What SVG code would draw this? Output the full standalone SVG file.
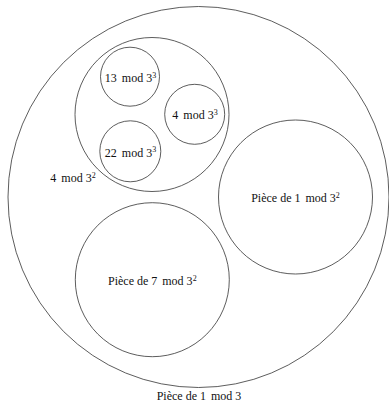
<svg xmlns="http://www.w3.org/2000/svg" width="389" height="402" viewBox="0 0 389 402">
<style>
circle{fill:none;stroke:#333;stroke-width:0.8}
text{font-family:'Liberation Serif','Times New Roman',serif;font-size:12px;fill:#111;text-anchor:middle}
.sup{font-size:8px}
</style>
<rect width="389" height="402" fill="#fff"/>
<g id="outer"><circle cx="198.5" cy="197" r="190.5"/><text x="199" y="399.5">Pièce de 1<tspan dx="5">mod 3</tspan></text></g>
<g id="mid"><circle cx="152" cy="114.5" r="77"/><text x="73" y="182">4<tspan dx="5">mod 3</tspan><tspan class="sup" dy="-4.5">2</tspan></text></g>
<g id="s13"><circle cx="130" cy="76.7" r="29.5"/><text x="130.5" y="82">13<tspan dx="5">mod 3</tspan><tspan class="sup" dy="-4.5">3</tspan></text></g>
<g id="s4"><circle cx="194.7" cy="114.3" r="30"/><text x="195" y="119.3">4<tspan dx="5">mod 3</tspan><tspan class="sup" dy="-4.5">3</tspan></text></g>
<g id="s22"><circle cx="130.3" cy="151.3" r="30.5"/><text x="130.5" y="156.5">22<tspan dx="5">mod 3</tspan><tspan class="sup" dy="-4.5">3</tspan></text></g>
<g id="p1"><circle cx="295.5" cy="197" r="77"/><text x="295.5" y="202">Pièce de 1<tspan dx="5">mod 3</tspan><tspan class="sup" dy="-4.5">2</tspan></text></g>
<g id="p7"><circle cx="152.3" cy="279.7" r="77"/><text x="152.3" y="285">Pièce de 7<tspan dx="5">mod 3</tspan><tspan class="sup" dy="-4.5">2</tspan></text></g>
<g id="connectors"></g>
</svg>
